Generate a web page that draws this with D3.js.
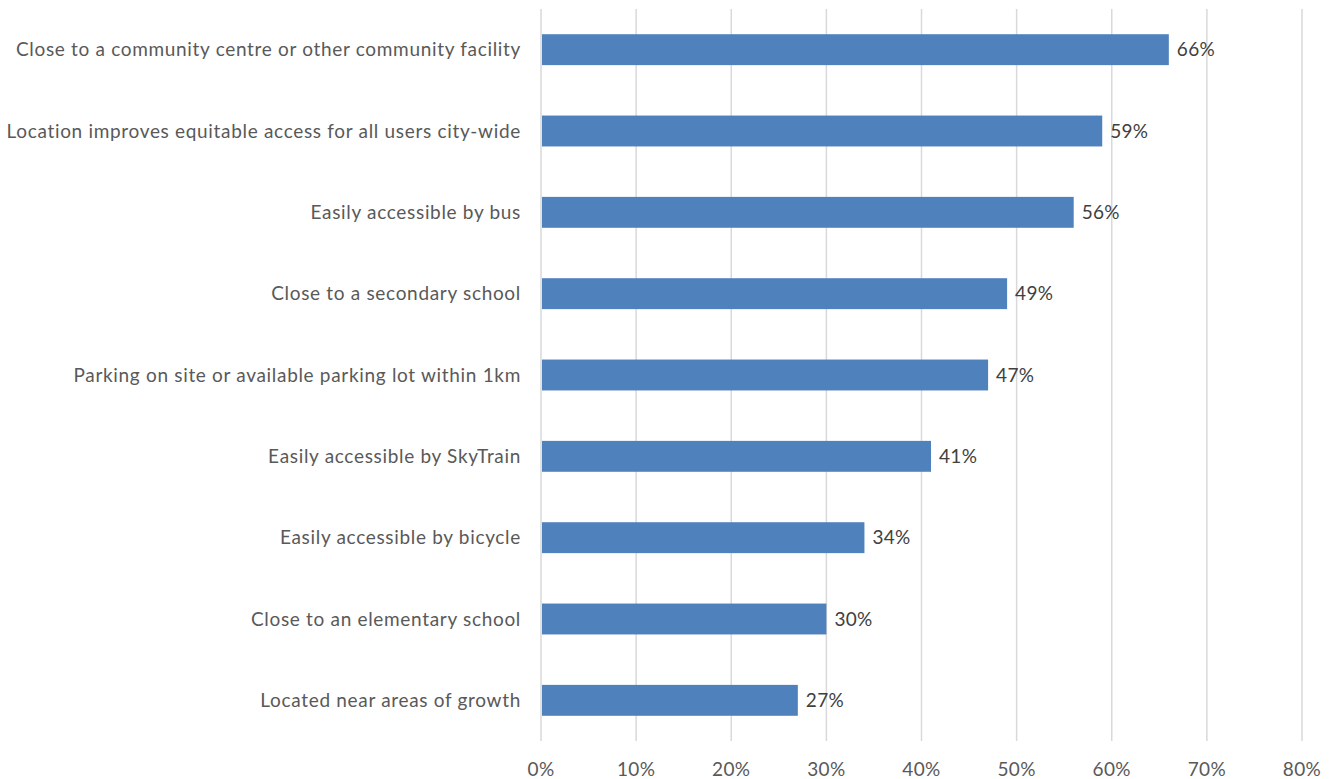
<!DOCTYPE html>
<html>
<head>
<meta charset="utf-8">
<script src="https://cdn.jsdelivr.net/npm/d3@7"></script>
<style>
  html, body { margin: 0; padding: 0; background: #ffffff; }
  svg { display: block; }
</style>
</head>
<body>
<svg id="chart" width="1332" height="779"></svg>
<script>
// Site-selection criteria and share of respondents choosing each
const categories = [
  "Close to a community centre or other community facility",
  "Location improves equitable access for all users city-wide",
  "Easily accessible by bus",
  "Close to a secondary school",
  "Parking on site or available parking lot within 1km",
  "Easily accessible by SkyTrain",
  "Easily accessible by bicycle",
  "Close to an elementary school",
  "Located near areas of growth"
];
const values = [66, 59, 56, 49, 47, 41, 34, 30, 27];
const tickValues = [0, 10, 20, 30, 40, 50, 60, 70, 80];

const svg = d3.select("#chart");
const margin = { top: 9, left: 541 };
const font = "Lato, 'Open Sans', sans-serif";

const x = d3.scaleLinear().domain([0, 80]).range([margin.left, 1302]);
const y = d3.scaleBand()
  .domain(categories)
  .range([margin.top, 741])
  .paddingInner(0.62)
  .paddingOuter(0.31);

// Vertical gridlines
svg.append("g")
  .selectAll("line")
  .data(tickValues)
  .join("line")
  .attr("x1", d => x(d)).attr("x2", d => x(d))
  .attr("y1", margin.top).attr("y2", 741)
  .attr("stroke", "#d9d9d9")
  .attr("stroke-width", 1.5);

// Bars
svg.append("g")
  .selectAll("rect")
  .data(categories)
  .join("rect")
  .attr("x", x(0) + 1)
  .attr("y", d => y(d))
  .attr("width", (d, i) => x(values[i]) - x(0) - 1)
  .attr("height", y.bandwidth())
  .attr("fill", "#4f81bd");

// Value labels
svg.append("g")
  .selectAll("text")
  .data(categories)
  .join("text")
  .attr("x", (d, i) => x(values[i]) + 8)
  .attr("y", d => y(d) + y.bandwidth() / 2)
  .attr("dy", "0.35em")
  .attr("font-family", font)
  .attr("font-size", 19)
  .attr("letter-spacing", 0.3)
  .attr("fill", "#404040")
  .text((d, i) => values[i] + "%");

// Category axis labels
svg.append("g")
  .selectAll("text")
  .data(categories)
  .join("text")
  .attr("x", 521)
  .attr("y", d => y(d) + y.bandwidth() / 2)
  .attr("dy", "0.35em")
  .attr("text-anchor", "end")
  .attr("font-family", font)
  .attr("font-size", 19)
  .attr("letter-spacing", 0.68)
  .attr("fill", "#595959")
  .text(d => d);

// Percentage axis labels
svg.append("g")
  .selectAll("text")
  .data(tickValues)
  .join("text")
  .attr("x", d => x(d))
  .attr("y", 769)
  .attr("dy", "0.35em")
  .attr("text-anchor", "middle")
  .attr("font-family", font)
  .attr("font-size", 19)
  .attr("letter-spacing", 0.4)
  .attr("fill", "#595959")
  .text(d => d + "%");
</script>
</body>
</html>
